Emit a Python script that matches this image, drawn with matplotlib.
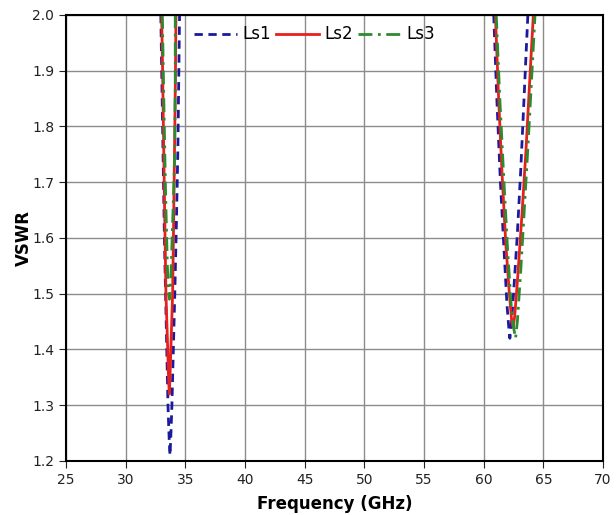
# VSWR vs frequency for three Ls values

import numpy as np
import matplotlib
matplotlib.use('Agg')
import matplotlib.pyplot as plt

nan = np.nan

# Ls1 - two resonance dips (GHz, VSWR)
ls1_freq = [32.95, 33.1, 33.25, 33.4, 33.55, 33.65, 33.72, 33.8, 33.88, 34.0, 34.12, 34.25, 34.38, 34.45, 34.52,
            nan,
            60.84, 61.1, 61.4, 61.7, 61.95, 62.1, 62.19, 62.3, 62.5, 62.8, 63.1, 63.4, 63.7]
ls1_vswr = [2.0, 1.8, 1.6, 1.45, 1.3, 1.24, 1.21, 1.25, 1.3, 1.4, 1.5, 1.62, 1.76, 1.88, 2.0,
            nan,
            2.0, 1.85, 1.7, 1.58, 1.48, 1.44, 1.42, 1.44, 1.5, 1.6, 1.72, 1.86, 2.0]

ls2_freq = [33.02, 33.1, 33.18, 33.27, 33.38, 33.5, 33.6, 33.66, 33.72, 33.82, 33.94, 34.02, 34.1, 34.17, 34.22,
            nan,
            60.98, 61.25, 61.55, 61.85, 62.15, 62.35, 62.47, 62.6, 62.85, 63.2, 63.55, 63.85, 64.16]
ls2_vswr = [2.0, 1.9, 1.78, 1.65, 1.5, 1.42, 1.35, 1.32, 1.35, 1.42, 1.5, 1.62, 1.76, 1.88, 2.0,
            nan,
            2.0, 1.85, 1.71, 1.59, 1.5, 1.45, 1.44, 1.46, 1.53, 1.64, 1.76, 1.88, 2.0]

ls3_freq = [33.08, 33.2, 33.35, 33.5, 33.6, 33.68, 33.78, 33.9, 34.05, 34.12, 34.16, 34.16,
            nan,
            61.05, 61.35, 61.7, 62.0, 62.3, 62.5, 62.67, 62.82, 63.1, 63.4, 63.75, 64.05, 64.3]
ls3_vswr = [2.0, 1.85, 1.68, 1.55, 1.5, 1.49, 1.52, 1.6, 1.7, 1.76, 1.88, 2.0,
            nan,
            2.0, 1.85, 1.7, 1.58, 1.48, 1.44, 1.42, 1.45, 1.54, 1.65, 1.78, 1.9, 2.0]

x_ticks = [25, 30, 35, 40, 45, 50, 55, 60, 65, 70]
y_ticks = [1.2, 1.3, 1.4, 1.5, 1.6, 1.7, 1.8, 1.9, 2.0]

fig = plt.figure(figsize=(6.16, 5.15), dpi=100)
ax = fig.add_axes([0.107, 0.105, 0.872, 0.866])

ax.plot(ls1_freq, ls1_vswr, color='#1a1a9a', lw=2, ls=(0, (3, 2)), label='Ls1')
ax.plot(ls2_freq, ls2_vswr, color='#e8201c', lw=2, label='Ls2')
ax.plot(ls3_freq, ls3_vswr, color='#2f8a2f', lw=2, ls=(0, (5, 2, 1, 2)), label='Ls3')

ax.set_xlim(25, 70)
ax.set_ylim(1.2, 2.0)
ax.set_xticks(x_ticks)
ax.set_yticks(y_ticks)
ax.set_yticklabels(['%.1f' % v for v in y_ticks])
ax.grid(True, color='#8c8c8c', lw=1)
ax.tick_params(direction='out', length=5, labelsize=10, colors='#222222')
for s in ax.spines.values():
    s.set_linewidth(1.5)

ax.set_xlabel('Frequency (GHz)', fontsize=12, fontweight='bold', labelpad=6)
ax.set_ylabel('VSWR', fontsize=12, fontweight='bold', labelpad=-1)

leg = ax.legend(loc='upper center', bbox_to_anchor=(0.462, 1.01), ncol=3, frameon=False,
                fontsize=12, handlelength=2.6, columnspacing=0.3, handletextpad=0.3)

fig.savefig('out.png', dpi=100)
